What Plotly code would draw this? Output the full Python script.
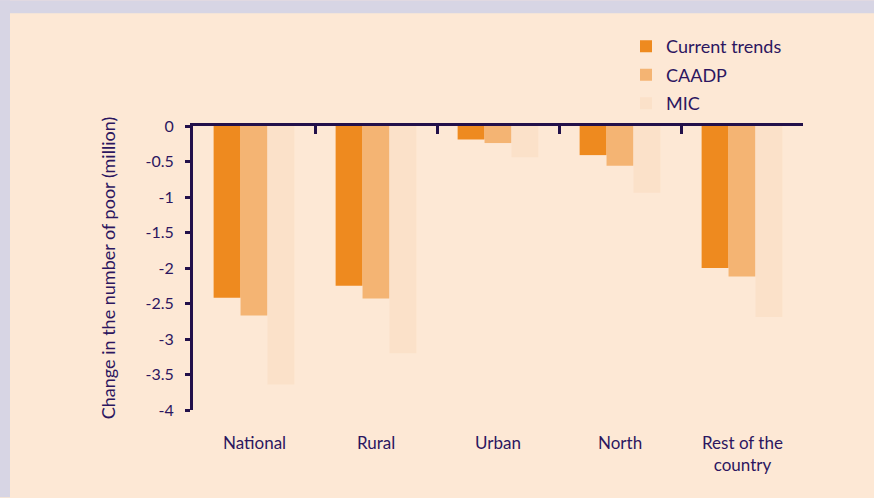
import plotly.graph_objects as go

categories = ["National", "Rural", "Urban", "North", "Rest of the<br>country"]
current_trends = [-2.42, -2.25, -0.19, -0.41, -2.00]
caadp = [-2.67, -2.43, -0.24, -0.56, -2.12]
mic = [-3.64, -3.20, -0.44, -0.94, -2.69]
series_names = ["Current trends", "CAADP", "MIC"]
y_tickvals = [0, -0.5, -1, -1.5, -2, -2.5, -3, -3.5, -4]
y_ticktext = ["0", "-0.5", "-1", "-1.5", "-2", "-2.5", "-3", "-3.5", "-4"]

colors = ["#EE8A1F", "#F4B473", "#FBE1C9"]
text_color = "#2C1660"
axis_color = "#22104A"
bg = "#FDE8D5"
lavender = "#D7D5E4"
font_family = "Lato, 'Open Sans', sans-serif"

fig = go.Figure()
for i, (name, vals) in enumerate(zip(series_names, [current_trends, caadp, mic])):
    fig.add_trace(go.Bar(
        x=categories, y=vals, name=name,
        marker=dict(color=colors[i], line=dict(width=0)),
        legendgroup=name,
    ))

W = 874; H = 498
l, r, t, b = 193, 71, 126, 87.5
pw = W - l - r
ph = H - t - b

def px_x(p):
    return (p - l) / pw

def px_y(p):
    return (H - b - p) / ph

fig.update_layout(
    width=W, height=H,
    margin=dict(l=l, r=r, t=t, b=b, pad=0),
    paper_bgcolor=bg,
    plot_bgcolor=bg,
    barmode="group",
    bargap=0.338,
    bargroupgap=0,
    font=dict(family=font_family, color=text_color, size=17),
    showlegend=True,
    legend=dict(
        x=px_x(626), y=px_y(28), xanchor="left", yanchor="top",
        bgcolor="rgba(0,0,0,0)", font=dict(size=18, color=text_color),
        tracegroupgap=2, traceorder="grouped",
    ),
    xaxis=dict(
        side="top", showline=True, linecolor=axis_color, linewidth=3,
        ticks="inside", ticklen=8, tickwidth=3, tickcolor=axis_color,
        tickson="boundaries", showticklabels=False, showgrid=False,
        zeroline=False, mirror=False,
    ),
    yaxis=dict(
        range=[-4, 0], showline=True, linecolor=axis_color, linewidth=3,
        ticks="outside", ticklen=5, tickwidth=3, tickcolor=axis_color,
        tickvals=y_tickvals, ticktext=y_ticktext, showgrid=False,
        zeroline=False, tickfont=dict(size=16, color=text_color),
        ticklabelstandoff=8,
        title=dict(text="Change in the number of poor (million)",
                   font=dict(size=18, color=text_color), standoff=26),
    ),
    shapes=[
        dict(type="rect", xref="paper", yref="paper", x0=px_x(0), x1=px_x(W),
             y0=px_y(13), y1=px_y(0), fillcolor=lavender, line=dict(width=0), layer="below"),
        dict(type="rect", xref="paper", yref="paper", x0=px_x(0), x1=px_x(10),
             y0=px_y(H), y1=px_y(0), fillcolor=lavender, line=dict(width=0), layer="below"),
    ],
)

for c in categories:
    fig.add_annotation(
        x=c, xref="x", y=0, yref="paper", yanchor="top", yshift=-20,
        text=c, showarrow=False, font=dict(size=17, color=text_color),
        align="center",
    )

fig.write_html(
    "out.html",
    config={"displayModeBar": False},
    post_script="document.body.style.margin='0';document.body.style.padding='0';",
)
